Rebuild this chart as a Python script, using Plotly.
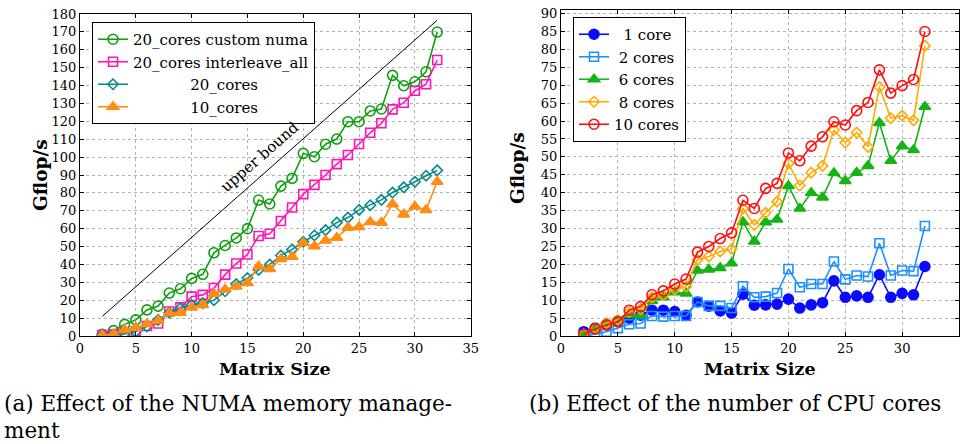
import plotly.graph_objects as go

# ---------------- data ----------------
matrix_size = [2, 3, 4, 5, 6, 7, 8, 9, 10, 11, 12, 13, 14, 15, 16, 17,
               18, 19, 20, 21, 22, 23, 24, 25, 26, 27, 28, 29, 30, 31, 32]

# (a) NUMA memory management
custom_numa = [1, 3, 6.5, 9, 14.6, 16.7, 24, 26.4, 32.2, 34.5, 46.5, 50.6, 54.8, 60, 76, 73.8,
               83.8, 88.1, 102.1, 100.2, 107.2, 110.1, 119.8, 119.8, 125.8, 126.9, 145.7, 139.9, 142.1, 147.7, 169.9]
interleave_all = [0.5, 1, 1.5, 2.6, 5.6, 7, 13.7, 16, 22, 23, 26.8, 34.3, 40.5, 45.6, 55.9, 57.2,
                  64.3, 71.8, 79.3, 84.5, 90, 96.1, 101.2, 107.3, 113.6, 118.9, 126.7, 130.4, 137.1, 140.7, 154.3]
cores20 = [0.5, 0.8, 1.2, 2.5, 5.4, 9, 13, 15.4, 17.4, 18.4, 20, 25, 29, 32.4, 37, 39.9,
           45, 48.4, 52.7, 56.2, 59.2, 63.4, 66.2, 70.5, 73.1, 76.1, 80.2, 83.1, 86.2, 89.6, 92.6]
cores10 = [0.5, 1, 3.4, 4.7, 6.7, 8.6, 12.7, 13, 16, 17.4, 23.6, 26, 27.7, 29.6, 39, 37.5,
           43.1, 44.3, 52.1, 50.2, 53.4, 54.9, 60.6, 60.9, 63.7, 63.4, 73.7, 68, 72.4, 70.5, 86.2]
upper_bound_x = [2, 32]
upper_bound_y = [11, 176.5]

# (b) number of CPU cores
one_core = [1.2, 2.2, 3.1, 4, 5, 5.8, 7.2, 7.2, 6.8, 5.8, 9.5, 8.3, 7, 6.4, 11.7, 8.6,
            8.7, 8.9, 10.3, 7.8, 8.7, 9.3, 15.4, 10.8, 11.2, 10.8, 17.1, 10.8, 11.9, 11.5, 19.4]
two_cores = [0.2, 0.5, 1.2, 2.2, 3.3, 3.5, 5.6, 5.4, 5.6, 5.6, 9.5, 8.4, 8.4, 7.8, 13.9, 10.8,
             11, 12, 18.7, 13.6, 14.5, 14.5, 20.8, 15.8, 16.9, 16.6, 25.9, 16.9, 18.3, 18.1, 30.7]
six_cores = [0.3, 2, 3.3, 4.2, 5.9, 5.9, 9.8, 10.8, 12.2, 11.9, 18.3, 18.6, 19, 20.3, 31.8, 26.4,
             31.8, 32.5, 41.9, 35.6, 40, 38.7, 45.5, 43.3, 45.6, 47.5, 59.5, 48.9, 53, 51.9, 64]
eight_cores = [0.5, 2.2, 3.6, 4.5, 6.7, 7.5, 10.8, 11.4, 13.1, 13.8, 21.3, 22.2, 23.6, 24.3, 35.6, 31,
               34.4, 37.5, 48.2, 42, 45.6, 47.5, 57.5, 54, 56.8, 52.8, 69.5, 60.8, 61.5, 60.2, 81]
ten_cores = [0.5, 2, 3.1, 4, 7.2, 8.2, 11.5, 12.6, 14.5, 15.9, 23.4, 25, 27.2, 28.8, 37.9, 35.6,
             41.2, 42.6, 51.1, 48.9, 53, 55.6, 59.8, 58.9, 62.9, 65.2, 74.3, 67.8, 69.9, 71.6, 85]

FONT = "DejaVu Serif, Liberation Serif, serif"
NB = "\u00a0"

fig = go.Figure()

def add(x, y, name, color, symbol, size, xa, ya, legend, lw=1.6, mlw=1.6):
    fig.add_trace(go.Scatter(
        x=x, y=y, name=name, mode="lines+markers", xaxis=xa, yaxis=ya, legend=legend,
        line=dict(color=color, width=lw),
        marker=dict(symbol=symbol, size=size, color=color, line=dict(color=color, width=mlw)),
    ))

# left
fig.add_trace(go.Scatter(x=upper_bound_x, y=upper_bound_y, mode="lines", showlegend=False,
                         line=dict(color="black", width=1), xaxis="x", yaxis="y", hoverinfo="skip"))
add(matrix_size, custom_numa, "20_cores custom numa", "#109f10", "circle-open", 10, "x", "y", "legend")
add(matrix_size, interleave_all, "20_cores interleave_all", "#ff14b4", "square-open", 9, "x", "y", "legend")
add(matrix_size, cores20, NB * 12 + "20_cores", "#0a8a8a", "diamond-open", 8, "x", "y", "legend")
add(matrix_size, cores10, NB * 12 + "10_cores", "#ff8c14", "triangle-up", 10, "x", "y", "legend")

# right
add(matrix_size, one_core, NB * 2 + "1 core", "#0a0aff", "circle", 10, "x2", "y2", "legend2")
add(matrix_size, two_cores, NB + "2 cores", "#1e8fff", "square-open", 9, "x2", "y2", "legend2")
add(matrix_size, six_cores, NB + "6 cores", "#14b414", "triangle-up", 10, "x2", "y2", "legend2")
add(matrix_size, eight_cores, NB + "8 cores", "#ffaa00", "diamond-open", 8, "x2", "y2", "legend2")
add(matrix_size, ten_cores, "10 cores", "#ff1010", "circle-open", 10, "x2", "y2", "legend2")

W, H = 967, 444
def px(x):
    return x / W
def py(y):
    return (H - y) / H

axis_common = dict(showline=True, linecolor="black", linewidth=1.2, mirror="ticks",
                   ticks="inside", ticklen=4, tickcolor="black", tickwidth=1,
                   showgrid=True, gridcolor="#b4b4b4", griddash="dot", gridwidth=1,
                   zeroline=False, automargin=False,
                   tickfont=dict(family=FONT, size=13, color="black"))

LEGFONT = dict(family=FONT, size=15, color="black")
fig.update_layout(
    width=W, height=H, margin=dict(l=0, r=0, t=0, b=0, pad=0, autoexpand=False),
    paper_bgcolor="white", plot_bgcolor="white",
    font=dict(family=FONT, color="black"),
    xaxis=dict(domain=[px(80), px(470.7)], range=[0, 35], dtick=5, anchor="y", **axis_common),
    yaxis=dict(domain=[py(336), py(14)], range=[0, 180], dtick=10, anchor="x", **axis_common),
    xaxis2=dict(domain=[px(561), px(959)], range=[0, 35], dtick=5, anchor="y2", **axis_common),
    yaxis2=dict(domain=[py(336), py(10)], range=[0, 91], dtick=5, anchor="x2", **axis_common),
    legend=dict(x=px(92), y=py(22), xanchor="left", yanchor="top", bgcolor="white",
                bordercolor="black", borderwidth=1, font=LEGFONT,
                itemwidth=30, tracegroupgap=0),
    legend2=dict(x=px(573), y=py(17), xanchor="left", yanchor="top", bgcolor="white",
                 bordercolor="black", borderwidth=1, font=LEGFONT,
                 itemwidth=30, tracegroupgap=0),
    showlegend=True,
)

def note(text, x, y, size, xanchor="center", angle=0, xref="paper", yref="paper"):
    return dict(text=text, x=x, y=y, xref=xref, yref=yref, showarrow=False,
                xanchor=xanchor, yanchor="middle", textangle=angle,
                font=dict(family=FONT, size=size, color="black"))

ann = [
    note("upper bound", 16.1, 100, 15, angle=-41, xref="x", yref="y"),
    note("<b>Gflop/s</b>", px(40), py(175), 18.5, angle=-90),
    note("<b>Gflop/s</b>", px(517), py(168), 18.5, angle=-90),
    note("<b>Matrix Size</b>", px(275), py(369), 17.5),
    note("<b>Matrix Size</b>", px(760), py(369), 17.5),
    note("(a) Effect of the NUMA memory manage-", px(2), py(403), 21.5, xanchor="left"),
    note("ment", px(2), py(430), 21.5, xanchor="left"),
    note("(b) Effect of the number of CPU cores", px(527), py(403), 21.5, xanchor="left"),
]
fig.update_layout(annotations=ann)

fig.write_html("out.html")
